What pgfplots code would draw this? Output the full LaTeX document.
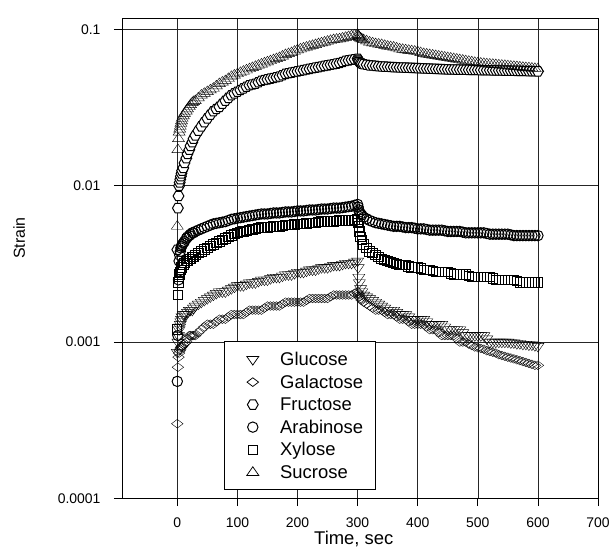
\documentclass[border=0pt]{standalone}
\usepackage{fontspec}
\setmainfont{Liberation Sans}
\usepackage{pgfplots}
\usepackage{pgfplotstable}
\pgfplotsset{compat=1.18}
\usetikzlibrary{plotmarks}

% open hexagon mark for Fructose
\pgfdeclareplotmark{hexagon}{%
  \pgfpathmoveto{\pgfqpointpolar{0}{\pgfplotmarksize}}%
  \pgfpathlineto{\pgfqpointpolar{60}{\pgfplotmarksize}}%
  \pgfpathlineto{\pgfqpointpolar{120}{\pgfplotmarksize}}%
  \pgfpathlineto{\pgfqpointpolar{180}{\pgfplotmarksize}}%
  \pgfpathlineto{\pgfqpointpolar{240}{\pgfplotmarksize}}%
  \pgfpathlineto{\pgfqpointpolar{300}{\pgfplotmarksize}}%
  \pgfpathclose
  \pgfusepathqfillstroke}

% t  Glucose  Galactose  Fructose  Arabinose  Xylose  Sucrose
\pgfplotstableread{
t   G        D        F       A        X        S
0   0.00086  0.0003   0.0039  0.00056  0.0012   0.0055
1   0.0010   0.00069  0.0072  0.0011   0.0020   0.017
2   0.0011   0.00080  0.0086  0.0025   0.0024   0.020
3   0.0012   0.00085  0.010   0.0033   0.0026   0.022
4   0.00125  0.00088  0.0105  0.0036   0.0027   0.023
5   0.0013   0.00090  0.011   0.0038   0.0028   0.024
6   0.00135  0.00092  0.0115  0.0040   0.0029   0.025
7   0.0014   0.00093  0.012   0.0041   0.0030   0.026
8   0.00145  0.00094  0.0125  0.0042   0.0030   0.027
10  0.0015   0.00096  0.013   0.0043   0.0031   0.028
12  0.0015   0.00098  0.014   0.0044   0.0032   0.029
15  0.0015   0.0010   0.015   0.0046   0.0033   0.030
17  0.00155  0.00105  0.016   0.0047   0.0033   0.031
20  0.0016   0.0011   0.017   0.0048   0.0034   0.032
22  0.0016   0.0011   0.018   0.0049   0.0034   0.033
25  0.0016   0.0011   0.019   0.0050   0.0035   0.034
27  0.00165  0.0011   0.020   0.0050   0.0035   0.0345
30  0.0017   0.0011   0.021   0.0051   0.0036   0.035
35  0.00175  0.00115  0.0225  0.0052   0.0037   0.0365
40  0.0018   0.0012   0.024   0.0053   0.0038   0.038
45  0.00185  0.00125  0.0255  0.0054   0.0039   0.039
50  0.0019   0.0013   0.027   0.0055   0.0040   0.040
55  0.00195  0.0013   0.0285  0.0056   0.0041   0.041
60  0.0020   0.0013   0.030   0.0057   0.0042   0.042
65  0.00205  0.00135  0.031   0.00575  0.0043   0.0435
70  0.0021   0.0014   0.032   0.0058   0.0044   0.045
75  0.0021   0.0014   0.0335  0.00585  0.0045   0.046
80  0.0021   0.0014   0.035   0.0059   0.0046   0.047
85  0.00215  0.00145  0.0365  0.0060   0.0047   0.0485
90  0.0022   0.0015   0.038   0.0061   0.0048   0.050
95  0.00225  0.0015   0.039   0.00615  0.0049   0.051
100 0.0023   0.0015   0.040   0.0062   0.0050   0.052
105 0.0023   0.0015   0.041   0.00625  0.00505  0.053
110 0.0023   0.0015   0.042   0.0063   0.0051   0.054
115 0.00235  0.00155  0.043   0.00635  0.00515  0.055
120 0.0024   0.0016   0.044   0.0064   0.0052   0.056
125 0.0024   0.0016   0.0445  0.00645  0.00525  0.057
130 0.0024   0.0016   0.045   0.0065   0.0053   0.058
135 0.00245  0.0016   0.046   0.00655  0.00535  0.059
140 0.0025   0.0016   0.047   0.0066   0.0054   0.060
145 0.0025   0.00165  0.0475  0.0066   0.0054   0.061
150 0.0025   0.0017   0.048   0.0066   0.0054   0.062
155 0.00255  0.0017   0.0485  0.00665  0.00545  0.063
160 0.0026   0.0017   0.049   0.0067   0.0055   0.064
165 0.0026   0.0017   0.0495  0.0067   0.0055   0.065
170 0.0026   0.0017   0.050   0.0067   0.0055   0.066
175 0.00265  0.00175  0.051   0.00675  0.00555  0.0675
180 0.0027   0.0018   0.052   0.0068   0.0056   0.069
185 0.0027   0.0018   0.0525  0.0068   0.0056   0.070
190 0.0027   0.0018   0.053   0.0068   0.0056   0.071
195 0.00275  0.0018   0.0535  0.00685  0.00565  0.0725
200 0.0028   0.0018   0.054   0.0069   0.0057   0.074
205 0.0028   0.0018   0.0545  0.0069   0.0057   0.075
210 0.0028   0.0018   0.055   0.0069   0.0057   0.076
215 0.00285  0.00185  0.0555  0.00695  0.00575  0.077
220 0.0029   0.0019   0.056   0.0070   0.0058   0.078
225 0.0029   0.0019   0.0565  0.0070   0.0058   0.079
230 0.0029   0.0019   0.057   0.0070   0.0058   0.080
235 0.00295  0.0019   0.0575  0.00705  0.00585  0.081
240 0.0030   0.0019   0.058   0.0071   0.0059   0.082
245 0.0030   0.0019   0.0585  0.0071   0.0059   0.083
250 0.0030   0.0019   0.059   0.0071   0.0059   0.084
255 0.00305  0.00195  0.0595  0.00715  0.0059   0.085
260 0.0031   0.0020   0.060   0.0072   0.0059   0.086
265 0.0031   0.0020   0.0605  0.0072   0.00595  0.0865
270 0.0031   0.0020   0.061   0.0072   0.0060   0.087
275 0.00315  0.0020   0.062   0.00725  0.0060   0.088
280 0.0032   0.0020   0.063   0.0073   0.0060   0.089
285 0.0032   0.0020   0.0635  0.00735  0.0060   0.090
290 0.0032   0.0020   0.064   0.0074   0.0060   0.091
295 0.00325  0.00205  0.0645  0.0075   0.00605  0.092
300 0.0033   0.0021   0.065   0.0076   0.0061   0.093
301 0.0030   0.00205  0.064   0.0073   0.0058   0.0915
302 0.0026   0.0020   0.063   0.0070   0.0055   0.090
303 0.0024   0.00195  0.062   0.0068   0.0051   0.089
305 0.0022   0.0019   0.061   0.0066   0.0047   0.088
307 0.0021   0.00185  0.0605  0.0065   0.0045   0.087
310 0.0020   0.0018   0.060   0.0063   0.0042   0.086
315 0.00195  0.00175  0.0595  0.00615  0.0040   0.0845
320 0.0019   0.0017   0.059   0.0060   0.0038   0.083
325 0.00185  0.00165  0.0588  0.0059   0.0037   0.082
330 0.0018   0.0016   0.0585  0.0058   0.0036   0.081
335 0.00175  0.0016   0.0582  0.00575  0.0035   0.0805
340 0.0017   0.0016   0.058   0.0057   0.0034   0.080
345 0.00165  0.00155  0.0579  0.00565  0.00335  0.079
350 0.0016   0.0015   0.0578  0.0056   0.0033   0.078
355 0.0016   0.0015   0.0576  0.00555  0.00325  0.0775
360 0.0016   0.0015   0.0575  0.0055   0.0032   0.077
365 0.00155  0.00145  0.0573  0.0055   0.00315  0.076
370 0.0015   0.0014   0.0572  0.0055   0.0031   0.075
375 0.0015   0.0014   0.0571  0.00545  0.0031   0.0745
380 0.0015   0.0014   0.057   0.0054   0.0031   0.074
385 0.00145  0.00135  0.0569  0.0054   0.00305  0.0735
390 0.0014   0.0013   0.0568  0.0054   0.0030   0.073
395 0.0014   0.0013   0.0567  0.00535  0.0030   0.0725
400 0.0014   0.0013   0.0566  0.0053   0.0030   0.072
405 0.0014   0.0013   0.0565  0.0053   0.00295  0.071
410 0.0014   0.0013   0.0564  0.0053   0.0029   0.070
415 0.00135  0.00125  0.0563  0.00525  0.0029   0.0695
420 0.0013   0.0012   0.0562  0.0052   0.0029   0.069
425 0.0013   0.0012   0.0561  0.0052   0.00285  0.0685
430 0.0013   0.0012   0.056   0.0052   0.0028   0.068
435 0.0013   0.00115  0.0559  0.0052   0.0028   0.0675
440 0.0013   0.0011   0.0558  0.0052   0.0028   0.067
445 0.00125  0.0011   0.0557  0.00515  0.0028   0.0665
450 0.0012   0.0011   0.0556  0.0051   0.0028   0.066
455 0.0012   0.0011   0.0555  0.0051   0.00275  0.0655
460 0.0012   0.0011   0.0555  0.0051   0.0027   0.065
465 0.0012   0.00105  0.0554  0.0051   0.0027   0.0645
470 0.0012   0.0010   0.0554  0.0051   0.0027   0.064
475 0.00115  0.0010   0.0553  0.00505  0.0027   0.0635
480 0.0011   0.0010   0.0553  0.0050   0.0027   0.063
485 0.0011   0.00097  0.0552  0.0050   0.00265  0.0625
490 0.0011   0.00095  0.0552  0.0050   0.0026   0.062
495 0.0011   0.00093  0.0551  0.0050   0.0026   0.0615
500 0.0011   0.00092  0.0551  0.0050   0.0026   0.061
505 0.0011   0.00091  0.0550  0.0050   0.0026   0.0608
510 0.0011   0.00090  0.055   0.0050   0.0026   0.0605
515 0.00105  0.00088  0.0549  0.00495  0.0026   0.0602
520 0.0010   0.00087  0.0549  0.0049   0.0026   0.060
525 0.0010   0.00086  0.0548  0.0049   0.00255  0.0598
530 0.0010   0.00085  0.0548  0.0049   0.0025   0.0595
535 0.0010   0.00083  0.0547  0.0049   0.0025   0.0592
540 0.0010   0.00082  0.0547  0.0049   0.0025   0.059
545 0.0010   0.00081  0.0546  0.0049   0.0025   0.0588
550 0.0010   0.00080  0.0546  0.0049   0.0025   0.0585
555 0.00099  0.00079  0.0545  0.00485  0.0025   0.0582
560 0.00099  0.00078  0.0545  0.0048   0.0025   0.058
565 0.00098  0.00077  0.0544  0.0048   0.00245  0.0578
570 0.00098  0.00076  0.0544  0.0048   0.0024   0.0575
575 0.00097  0.00075  0.0543  0.0048   0.0024   0.0572
580 0.00097  0.00074  0.0543  0.0048   0.0024   0.057
585 0.00096  0.00073  0.0542  0.0048   0.0024   0.0568
590 0.00096  0.00072  0.0542  0.0048   0.0024   0.0565
595 0.00095  0.00071  0.0541  0.0048   0.0024   0.0562
600 0.00094  0.00071  0.054   0.0048   0.0024   0.056
}\strain

\begin{document}
\begin{tikzpicture}
\begin{axis}[
  scale only axis,
  width=476bp, height=480bp,
  xmin=-92, xmax=700,
  ymode=log, ymin=1e-4, ymax=0.118,
  xtick={0,100,...,700},
  ytick={1e-4,1e-3,1e-2,1e-1},
  yticklabels={0.0001,0.001,0.01,0.1},
  yminorticks=false,
  xtick pos=bottom, ytick pos=left,
  tick align=outside,
  major tick length=8bp,
  tick style={black, line width=0.8bp},
  grid=major,
  grid style={black!85, line width=0.6bp},
  axis line style={line width=0.9bp},
  /pgf/number format/assume math mode=true,
  ticklabel style={font=\fontsize{14}{16}\selectfont},
  xticklabel style={yshift=-8bp},
  yticklabel style={xshift=-10bp},
  xlabel={Time, sec},
  ylabel={Strain},
  xlabel style={font=\fontsize{18.5}{20}\selectfont, at={(axis description cs:0.487,-0.085)}, anchor=center},
  ylabel style={font=\fontsize{16}{18}\selectfont, at={(axis description cs:-0.216,0.542)}, anchor=center},
  every axis plot/.append style={only marks, mark options={solid, fill=white, draw=black, line width=1bp}},
  legend style={at={(axis description cs:0.2143,0.017)}, anchor=south west,
    draw=black, line width=0.8bp, fill=white,
    font=\fontsize{18.5}{21}\selectfont, inner xsep=10bp, inner ysep=8bp,
    row sep=4bp},
  legend cell align=left,
  legend image code/.code={%
    \path (0bp,0bp) (43bp,0bp);
    \draw[#1, line width=0.75bp] plot coordinates {(18bp,0bp)};},
]
\addplot[mark=triangle, mark size=5.8bp, mark options={rotate=180, xscale=1.2}] table[x=t, y=G] {\strain};
\addplot[mark=diamond, mark size=5.8bp, mark options={rotate=90}] table[x=t, y=D] {\strain};
\addplot[mark=hexagon, mark size=5.4bp] table[x=t, y=F] {\strain};
\addplot[mark=o, mark size=5.2bp] table[x=t, y=A] {\strain};
\addplot[mark=square, mark size=4.7bp] table[x=t, y=X] {\strain};
\addplot[mark=triangle, mark size=5.8bp, mark options={xscale=1.2}] table[x=t, y=S] {\strain};
\legend{Glucose, Galactose, Fructose, Arabinose, Xylose, Sucrose}
\coordinate (bbsw) at (rel axis cs:-0.2563,-0.125);
\coordinate (bbne) at (rel axis cs:1.0357,1.0381);
\end{axis}
\path (bbsw) rectangle (bbne);
\end{tikzpicture}
\end{document}
